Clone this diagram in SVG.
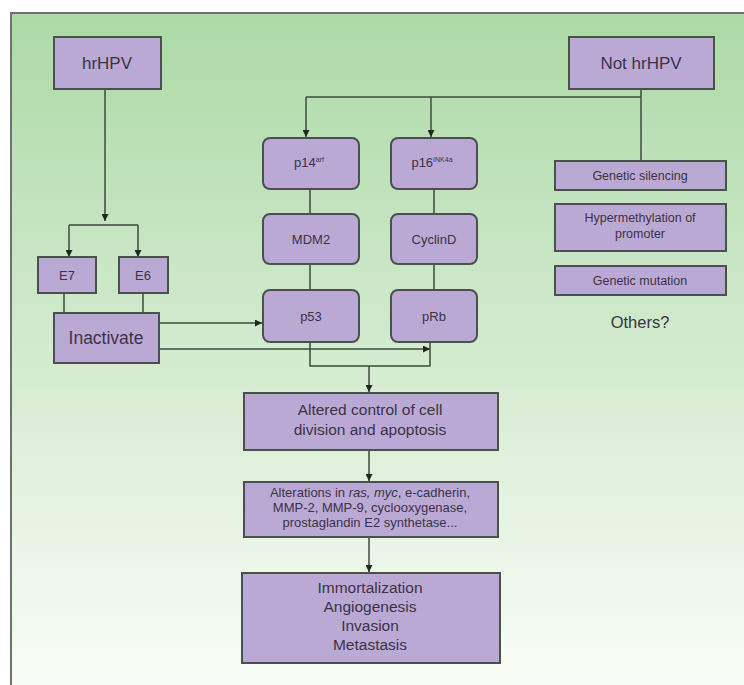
<svg xmlns="http://www.w3.org/2000/svg" width="744" height="685" viewBox="0 0 744 685">
  <defs>
    <linearGradient id="bg" x1="0" y1="0" x2="0" y2="1">
      <stop offset="0" stop-color="#acd9a6"/>
      <stop offset="0.45" stop-color="#cfe9cb"/>
      <stop offset="1" stop-color="#fbfdf8"/>
    </linearGradient>
    <marker id="arrow" viewBox="0 0 10 10" refX="10" refY="5" markerWidth="7" markerHeight="7" markerUnits="userSpaceOnUse" orient="auto">
      <path d="M0,0 L10,5 L0,10 Z" fill="#1f2a1f"/>
    </marker>
    <style>
      .box { fill: #bba9d5; stroke: #4a514d; stroke-width: 2; }
      .line { fill: none; stroke: #3d4a3d; stroke-width: 1.5; }
      .arr { fill: none; stroke: #3d4a3d; stroke-width: 1.5; marker-end: url(#arrow); }
      text { font-family: "Liberation Sans", Arial, sans-serif; fill: #3b3345; text-anchor: middle; }
      .small { font-size: 12.5px; }
      .mid { font-size: 13px; }
      .big { font-size: 17px; }
      .step { font-size: 15.5px; }
      .list { font-size: 13px; }
      .out { font-size: 15.5px; }
    </style>
  </defs>

  <!-- page background and frame -->
  <rect x="0" y="0" width="744" height="685" fill="#ffffff"/>
  <rect x="11" y="13" width="740" height="680" fill="url(#bg)"/>
  <path d="M11,685 L11,13 L744,13" fill="none" stroke="#6b736b" stroke-width="2"/>

  <!-- connectors -->
  <g id="connectors">
    <path class="arr" d="M105,89 L105,221"/>
    <path class="line" d="M69,225 L138,225"/>
    <path class="arr" d="M69,225 L69,257"/>
    <path class="arr" d="M138,225 L138,257"/>
    <path class="line" d="M64,293 L64,313"/>
    <path class="line" d="M143,293 L143,313"/>
    <path class="arr" d="M159,323 L262,323"/>
    <path class="arr" d="M159,349 L430,349"/>

    <path class="line" d="M306,97 L641,97"/>
    <path class="line" d="M641,89 L641,161"/>
    <path class="arr" d="M306,97 L306,137"/>
    <path class="arr" d="M431,97 L431,137"/>

    <path class="line" d="M310,189 L310,214"/>
    <path class="line" d="M310,264 L310,290"/>
    <path class="line" d="M434,189 L434,214"/>
    <path class="line" d="M434,264 L434,290"/>

    <path class="line" d="M310,342 L310,366 L430,366 L430,342"/>
    <path class="arr" d="M369,366 L369,392"/>
    <path class="arr" d="M369,450 L369,481"/>
    <path class="arr" d="M369,537 L369,572"/>
  </g>

  <g id="hrHPV">
    <rect class="box" x="54" y="37" width="107" height="52"/>
    <text class="big" x="107" y="69">hrHPV</text>
  </g>
  <g id="notHrHPV">
    <rect class="box" x="569" y="37" width="145" height="52"/>
    <text class="big" x="641" y="69">Not hrHPV</text>
  </g>

  <g id="E7">
    <rect class="box" x="38" y="257" width="58" height="36"/>
    <text class="mid" x="67" y="280">E7</text>
  </g>
  <g id="E6">
    <rect class="box" x="119" y="257" width="49" height="36"/>
    <text class="mid" x="143" y="280">E6</text>
  </g>
  <g id="inactivate">
    <rect class="box" x="54" y="313" width="105" height="50"/>
    <text x="106" y="344" style="font-size:17.5px">Inactivate</text>
  </g>

  <g id="p14">
    <rect class="box" x="263" y="138" width="96" height="51" rx="7"/>
    <text class="mid" x="309" y="167">p14<tspan dy="-5" style="font-size:7px">arf</tspan></text>
  </g>
  <g id="p16">
    <rect class="box" x="391" y="138" width="86" height="51" rx="7"/>
    <text class="mid" x="432" y="167">p16<tspan dy="-5" style="font-size:7px">INK4a</tspan></text>
  </g>
  <g id="MDM2">
    <rect class="box" x="263" y="214" width="96" height="50" rx="7"/>
    <text class="mid" x="311" y="244">MDM2</text>
  </g>
  <g id="cyclinD">
    <rect class="box" x="391" y="214" width="86" height="50" rx="7"/>
    <text class="mid" x="434" y="244">CyclinD</text>
  </g>
  <g id="p53">
    <rect class="box" x="263" y="290" width="96" height="52" rx="7"/>
    <text class="mid" x="311" y="321">p53</text>
  </g>
  <g id="pRb">
    <rect class="box" x="391" y="290" width="86" height="52" rx="7"/>
    <text class="mid" x="434" y="321">pRb</text>
  </g>

  <g id="geneticSilencing">
    <rect class="box" x="555" y="161" width="171" height="29"/>
    <text class="small" x="640" y="180">Genetic silencing</text>
  </g>
  <g id="hypermethylation">
    <rect class="box" x="555" y="204" width="171" height="47"/>
    <text class="small" x="640" y="222">Hypermethylation of</text>
    <text class="small" x="640" y="238">promoter</text>
  </g>
  <g id="geneticMutation">
    <rect class="box" x="555" y="266" width="171" height="29"/>
    <text class="small" x="640" y="285">Genetic mutation</text>
  </g>
  <g id="others">
    <text x="640" y="328" style="font-size:16.5px">Others?</text>
  </g>

  <g id="alteredControl">
    <rect class="box" x="244" y="393" width="254" height="57"/>
    <text class="step" x="370" y="415">Altered control of cell</text>
    <text class="step" x="370" y="435">division and apoptosis</text>
  </g>
  <g id="alterations">
    <rect class="box" x="244" y="482" width="254" height="55"/>
    <text class="list" x="370" y="497">Alterations in <tspan font-style="italic">ras, myc</tspan>, e-cadherin,</text>
    <text class="list" x="370" y="512">MMP-2, MMP-9, cyclooxygenase,</text>
    <text class="list" x="370" y="527">prostaglandin E2 synthetase...</text>
  </g>
  <g id="outcomes">
    <rect class="box" x="242" y="573" width="258" height="90"/>
    <text class="out" x="370" y="593">Immortalization</text>
    <text class="out" x="370" y="612">Angiogenesis</text>
    <text class="out" x="370" y="631">Invasion</text>
    <text class="out" x="370" y="650">Metastasis</text>
  </g>
</svg>
